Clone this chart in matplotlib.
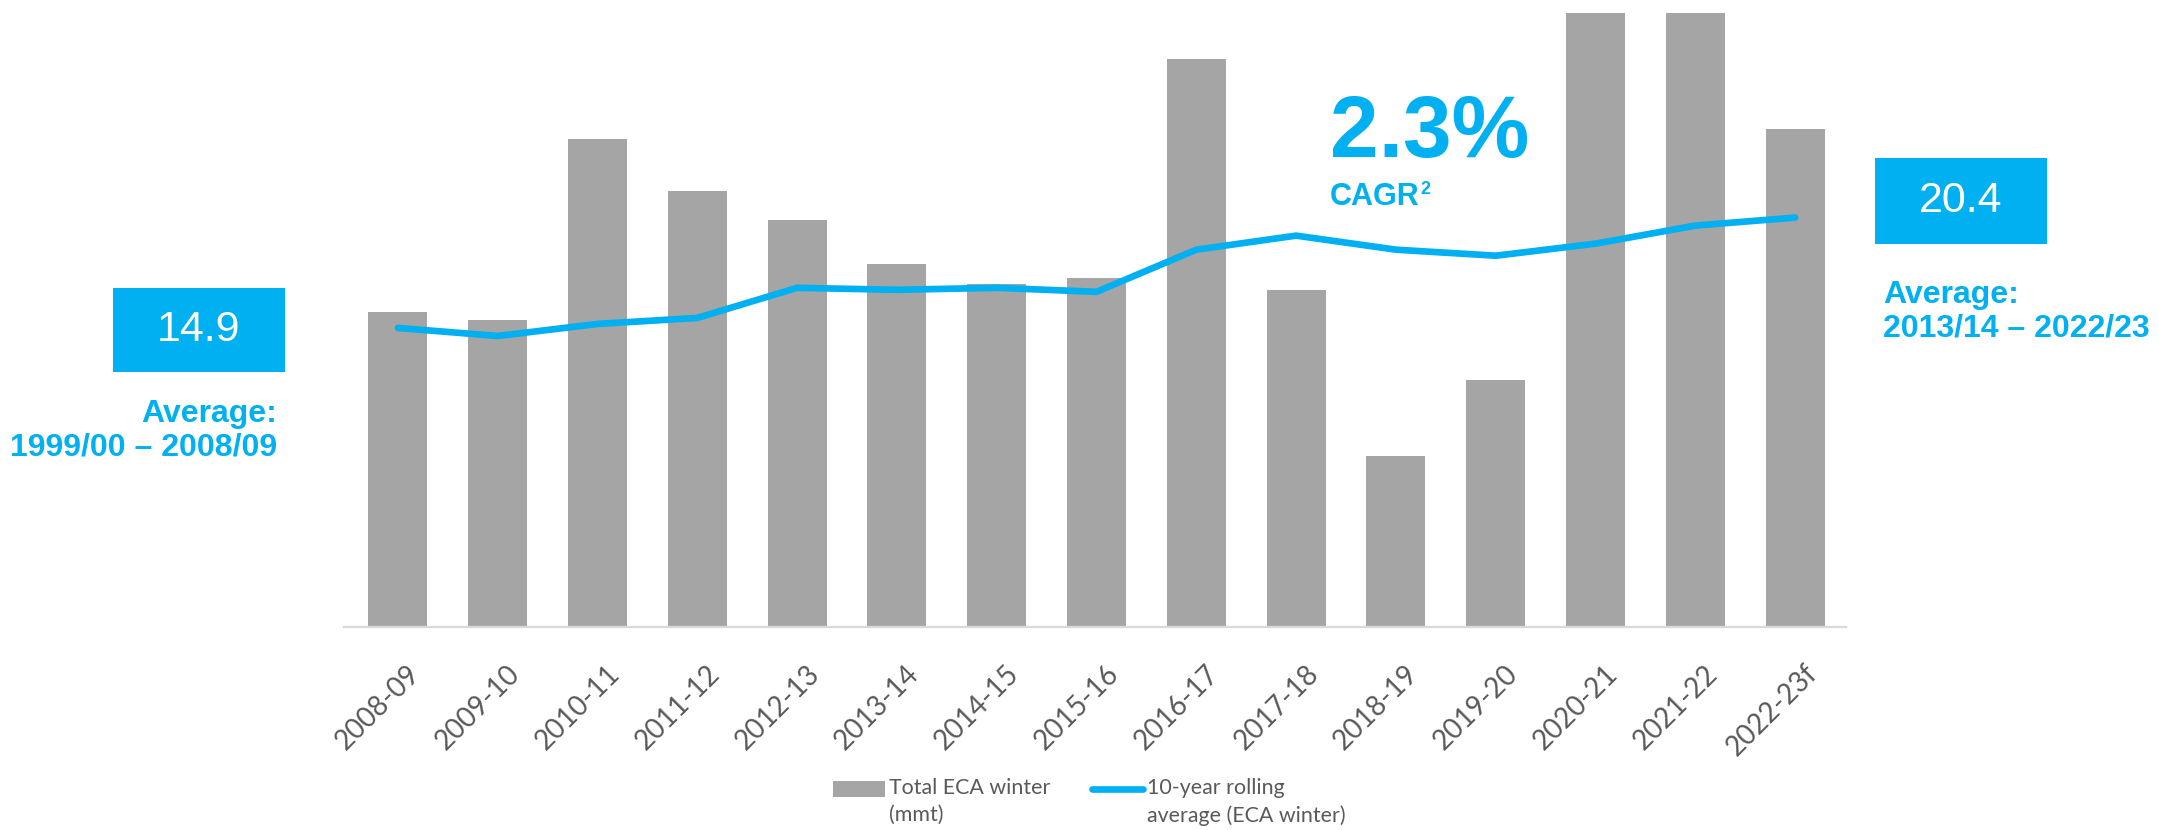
import numpy as np
import matplotlib
matplotlib.use('Agg')
import matplotlib.pyplot as plt
import matplotlib.transforms as mtransforms
from matplotlib.patches import Rectangle
from matplotlib.lines import Line2D

# data (mmt)
seasons = ['2008-09', '2009-10', '2010-11', '2011-12', '2012-13', '2013-14', '2014-15',
           '2015-16', '2016-17', '2017-18', '2018-19', '2019-20', '2020-21', '2021-22', '2022-23f']
total_eca = [15.7, 15.3, 24.3, 21.7, 20.3, 18.1, 17.1, 17.4, 28.3, 16.8, 8.5, 12.3, 30.6, 30.6, 24.8]
rolling_avg = [14.9, 14.5, 15.1, 15.4, 16.9, 16.8, 16.9, 16.7, 18.8, 19.5, 18.8, 18.5, 19.1, 20.0, 20.4]
legend_labels = ['Total ECA winter\n(mmt)', '10-year rolling\naverage (ECA winter)']

bar_color = '#a5a5a5'
blue = '#00b0f0'
grey_text = '#595959'

W, H = 2159, 830
fig = plt.figure(figsize=(W / 100, H / 100), dpi=100)
ax = fig.add_axes([344 / W, (H - 627) / H, 1502 / W, 31.2 * 20.07 / H])

x = np.arange(len(seasons))
ax.bar(x, total_eca, width=0.59, color=bar_color, zorder=2)
ax.plot(x, rolling_avg, color=blue, lw=4.8, solid_capstyle='round', solid_joinstyle='round', zorder=3)

ax.set_xlim(-0.54, 14.51)
ax.set_ylim(0, 31.2)
for s in ['top', 'right', 'left']:
    ax.spines[s].set_visible(False)
ax.spines['bottom'].set_color('#d9d9d9')
ax.spines['bottom'].set_linewidth(1.6)
ax.set_yticks([])
ax.set_xticks(x)
ax.set_xticklabels(seasons, rotation=45, ha='right', rotation_mode='anchor',
                   fontsize=20, color=grey_text, family='Lato')
ax.tick_params(axis='x', length=0, pad=24)
shift = mtransforms.ScaledTranslation(0.09, 0, fig.dpi_scale_trans)
for lab in ax.get_xticklabels():
    lab.set_transform(lab.get_transform() + shift)

# legend, drawn by hand so the keys sit on the first text line
ly = 1 - 789 / H
fig.patches.append(Rectangle((833 / W, ly - 8 / H), 52 / W, 16 / H, transform=fig.transFigure,
                             facecolor=bar_color, edgecolor='none'))
fig.lines.append(Line2D([1092 / W, 1143 / W], [ly, ly], transform=fig.transFigure,
                        color=blue, lw=4.8, solid_capstyle='round'))
for tx, lab in zip([889, 1147], legend_labels):
    fig.text(tx / W, ly + 11 / H, lab, fontsize=15.4, family='Lato', color=grey_text,
             ha='left', va='top', linespacing=1.45)

# annotations
def avg_box(x0, y0, x1, y1, txt):
    fig.patches.append(Rectangle((x0 / W, 1 - y1 / H), (x1 - x0) / W, (y1 - y0) / H,
                                 transform=fig.transFigure, facecolor=blue, edgecolor='none'))
    fig.text((x0 + x1) / 2 / W, 1 - (y0 + y1) / 2 / H, txt, color='white', fontsize=31,
             family='Liberation Sans', ha='center', va='center')

avg_box(113, 288, 285, 372, '14.9')
fig.text(277 / W, 1 - 431 / H, 'Average:\n1999/00 – 2008/09', color=blue, fontsize=23,
         fontweight='bold', family='Liberation Sans', ha='right', va='center',
         multialignment='right', linespacing=1.15)

avg_box(1875, 158, 2047, 244, '20.4')
fig.text(1883 / W, 1 - 312 / H, 'Average:\n2013/14 – 2022/23', color=blue, fontsize=23,
         fontweight='bold', family='Liberation Sans', ha='left', va='center',
         multialignment='left', linespacing=1.15)

fig.text(1330 / W, 1 - 157 / H, '2.3%', color=blue, fontsize=63, fontweight='bold',
         family='Liberation Sans', ha='left', va='baseline')
cagr = fig.text(1330 / W, 1 - 205 / H, 'CAGR', color=blue, fontsize=22, fontweight='bold',
                family='Liberation Sans', ha='left', va='baseline')
ax.annotate('2', xy=(1, 1), xycoords=cagr, xytext=(0.3, 0.5), textcoords='offset points',
            color=blue, fontsize=13, fontweight='bold', family='Liberation Sans',
            ha='left', va='top', annotation_clip=False)

fig.savefig('out.png', dpi=100, facecolor='white')
